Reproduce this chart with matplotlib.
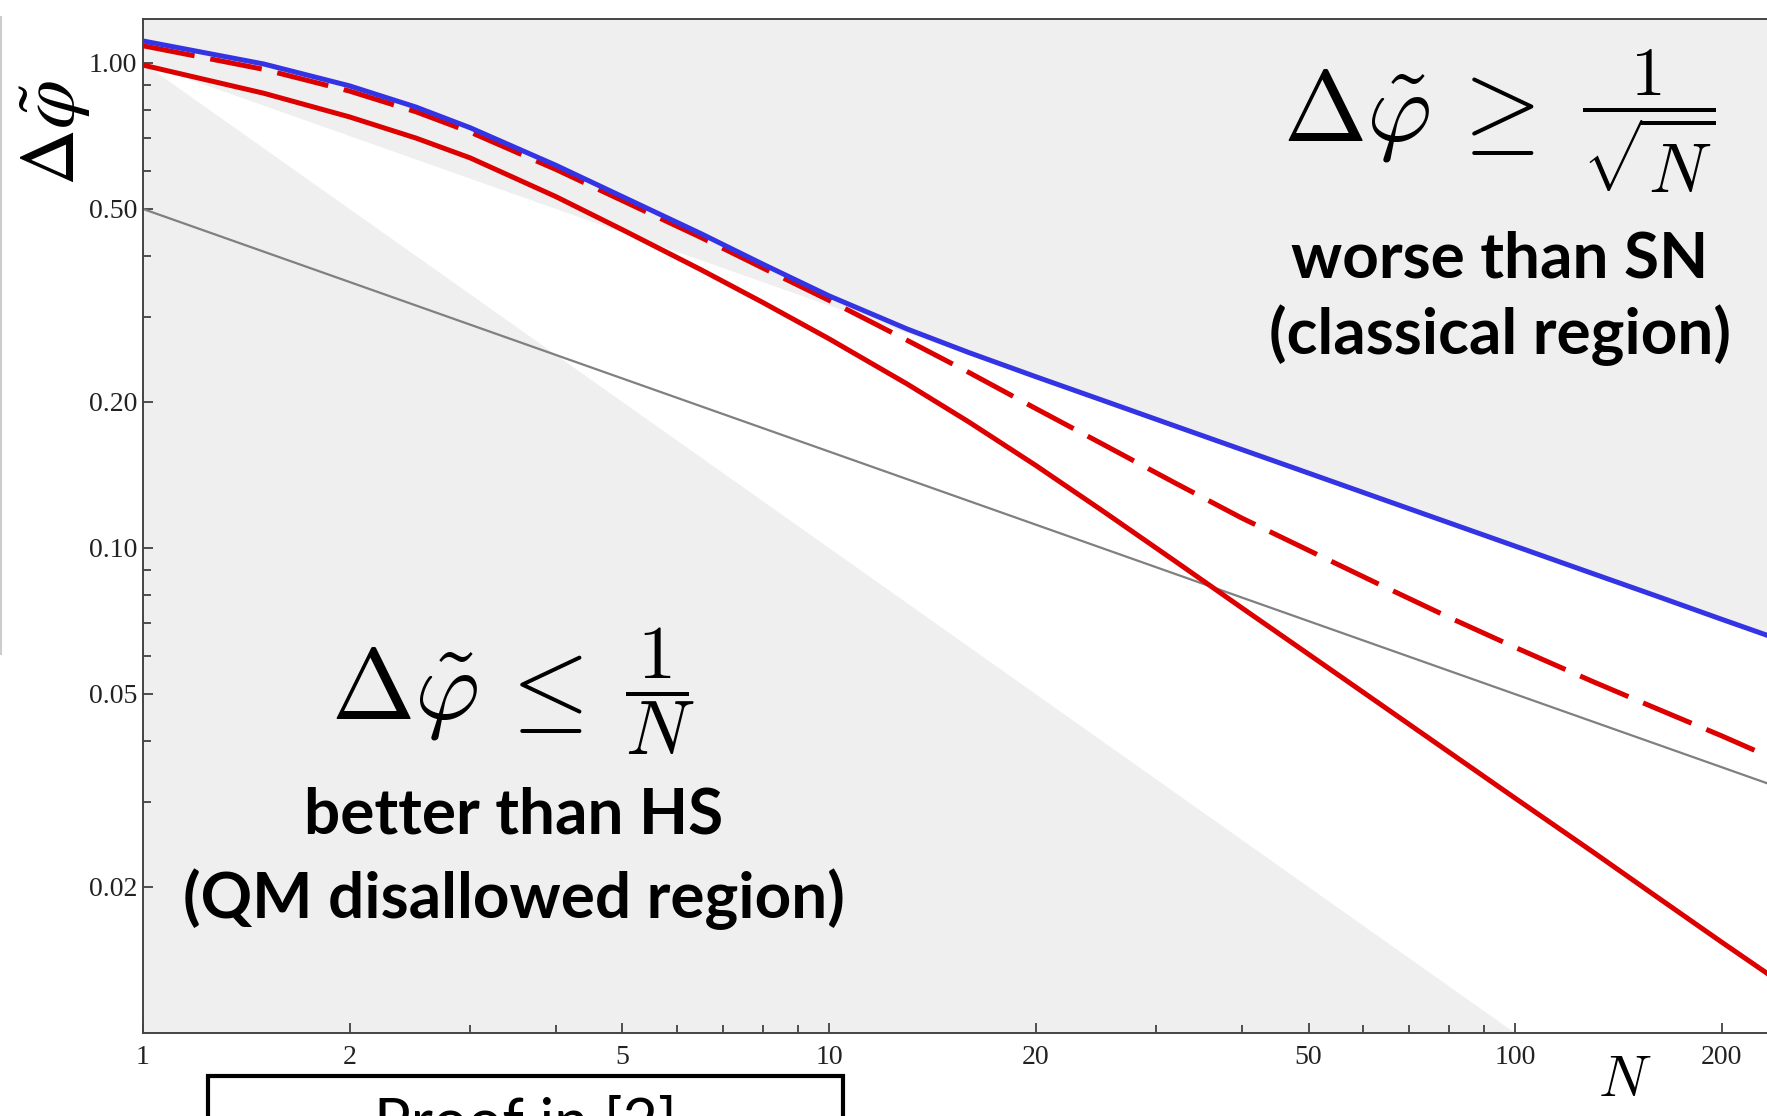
"""Phase uncertainty vs N on log-log axes, slide-style recreation."""

import matplotlib
matplotlib.use("Agg")
import matplotlib.pyplot as plt
import matplotlib.patches as mpatches
from matplotlib.lines import Line2D
from matplotlib.ticker import FixedLocator, FixedFormatter, NullFormatter

W, H = 1767, 1116

# curve samples
N = [1, 1.5, 2, 2.5, 3, 4, 5, 6.5, 8, 10, 13, 16, 20, 25, 32, 40, 50, 63, 80, 100, 130, 160, 200, 250]
blue = [1.11, 0.995, 0.897, 0.811, 0.735, 0.615, 0.530, 0.445, 0.385, 0.331, 0.2828, 0.2528, 0.2256,
        0.2018, 0.1783, 0.1595, 0.1427, 0.1271, 0.1128, 0.1009, 0.0885, 0.0798, 0.0713, 0.0638]
red_dashed = [1.085, 0.97, 0.875, 0.793, 0.720, 0.603, 0.520, 0.437, 0.378, 0.324, 0.268, 0.230, 0.194,
              0.164, 0.136, 0.1152, 0.0989, 0.0845, 0.0720, 0.0624, 0.053, 0.0468, 0.0410, 0.0357]
red_solid = [0.99, 0.866, 0.774, 0.700, 0.637, 0.530, 0.453, 0.375, 0.321, 0.270, 0.2178, 0.1818, 0.1481,
             0.1195, 0.0938, 0.0752, 0.0604, 0.0481, 0.0380, 0.0305, 0.0236, 0.0192, 0.0154, 0.0124]

# straight (power-law) guides: two end points each
gray_N = [1, 250]
gray_v = [0.5, 0.0316]
bound_N = [1, 250]
hs_bound = [1.0, 0.004]    # 1/N
sn_bound = [1.0, 0.0632]   # 1/sqrt(N)

x_major = [1, 2, 5, 10, 20, 50, 100, 200]
x_minor = [3, 4, 6, 7, 8, 9, 30, 40, 60, 70, 80, 90, 300]
y_major = [0.02, 0.05, 0.10, 0.20, 0.50, 1.00]
y_minor = [0.03, 0.04, 0.06, 0.07, 0.08, 0.09, 0.3, 0.4, 0.6, 0.7, 0.8, 0.9]

plt.rcParams["mathtext.fontset"] = "cm"


def fpos(x, y):
    return x / W, 1 - y / H


fig = plt.figure(figsize=(W / 100, H / 100), dpi=100, facecolor="white")
ax = fig.add_axes([143 / W, 1 - 1033 / H, (1788 - 143) / W, (1033 - 19) / H])
ax.set_xscale("log")
ax.set_yscale("log")
ax.set_xlim(1, 250)
ax.set_ylim(0.01, 1.232)
ax.set_facecolor("#efefef")

ax.fill_between(bound_N, hs_bound, sn_bound, color="white", lw=0, zorder=1)
ax.plot(gray_N, gray_v, color="#808080", lw=1.6, zorder=2)
ax.plot(N, red_dashed, color="#dd0000", lw=3.6, dashes=(10.5, 3.2), dash_capstyle="butt", zorder=3)
ax.plot(N, red_solid, color="#dd0000", lw=3.6, zorder=3)
ax.plot(N, blue, color="#3434e4", lw=3.6, zorder=4)

ax.xaxis.set_major_locator(FixedLocator(x_major))
ax.xaxis.set_major_formatter(FixedFormatter([str(v) for v in x_major]))
ax.xaxis.set_minor_locator(FixedLocator(x_minor))
ax.xaxis.set_minor_formatter(NullFormatter())
ax.yaxis.set_major_locator(FixedLocator(y_major))
ax.yaxis.set_major_formatter(FixedFormatter([f"{v:.2f}" for v in y_major]))
ax.yaxis.set_minor_locator(FixedLocator(y_minor))
ax.yaxis.set_minor_formatter(NullFormatter())
ax.tick_params(which="both", direction="in", color="#333333", width=1.2, top=False, right=False)
ax.tick_params(which="major", length=7)
ax.tick_params(which="minor", length=5.5)
ax.tick_params(axis="x", pad=9)
ax.tick_params(axis="y", pad=4)
for lab in ax.get_xticklabels() + ax.get_yticklabels():
    lab.set_fontfamily("Liberation Serif")
    lab.set_fontsize(20)
    lab.set_color("#222222")
for side in ["left", "bottom", "top", "right"]:
    ax.spines[side].set_color("#444444")
    ax.spines[side].set_linewidth(1.4)

# axis labels
fig.text(*fpos(55, 133), r"$\Delta\tilde{\varphi}$", rotation=90, fontsize=57, ha="center", va="center",
         math_fontfamily="stix")
fig.text(*fpos(1625, 1080), r"$N$", fontsize=42, ha="center", va="center")

# region annotations: relation and fraction as separate pieces
fig.text(*fpos(1283, 140), r"$\Delta\tilde{\varphi}\,\geq$", fontsize=72, ha="left", va="baseline")
fig.text(*fpos(1649, 121), r"$\dfrac{1}{\sqrt{N}}$", fontsize=50, ha="center", va="center")
bold = dict(family=["Lato", "DejaVu Sans"], weight="bold", fontsize=46, ha="center", va="baseline")
fig.text(*fpos(1500, 277), "worse than SN", **bold)
fig.text(*fpos(1500, 354), "(classical region)", **bold)

fig.text(*fpos(331, 718), r"$\Delta\tilde{\varphi}\,\leq$", fontsize=72, ha="left", va="baseline")
fig.text(*fpos(660, 691), r"$\dfrac{1}{N}$", fontsize=55, ha="center", va="center")
fig.text(*fpos(514, 834), "better than HS", **bold)
fig.text(*fpos(514, 918), "(QM disallowed region)", **bold)

# slide leftovers around the plot
fig.add_artist(Line2D([1 / W, 1 / W], [1 - 17 / H, 1 - 654 / H], color="#cccccc", lw=1.5))
box = mpatches.Rectangle(fpos(208, 1140), (843 - 208) / W, (1140 - 1076) / H, transform=fig.transFigure,
                         fill=False, ec="black", lw=3, clip_on=False)
fig.add_artist(box)
fig.text(*fpos(525, 1097), "Proof in [2]", family=["Lato", "DejaVu Sans"], fontsize=44,
         ha="center", va="top")

fig.savefig("out.png", dpi=100, facecolor="white")
